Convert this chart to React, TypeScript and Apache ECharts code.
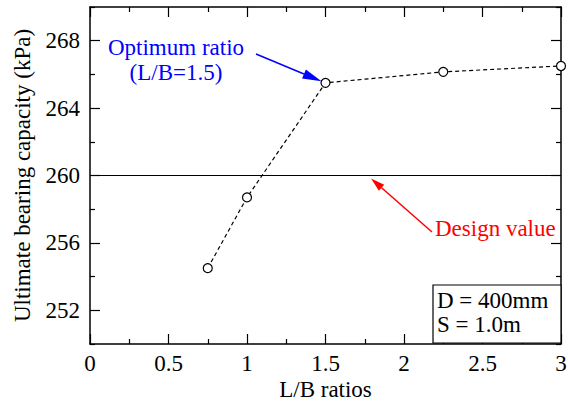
import React, { useEffect, useRef } from "react";
import * as echarts from "echarts";

const lbRatios = [0.75, 1, 1.5, 2.25, 3];
const capacity = [254.5, 258.7, 265.5, 266.15, 266.5];
const designValue = 260;
const yLabelValues = [252, 256, 260, 264, 268];
const yMinorValues = [250, 254, 258, 262, 266, 270];
const optimumText = ["Optimum ratio", "(L/B=1.5)"];
const designText = "Design value";
const infoText = ["D = 400mm", "S = 1.0m"];

const FONT = "'Liberation Serif', 'Times New Roman', serif";
const FS = 23;

function arrow(x1: number, y1: number, x2: number, y2: number, color: string, headLen: number, headHalf: number) {
  const dx = x2 - x1, dy = y2 - y1;
  const len = Math.sqrt(dx * dx + dy * dy);
  const ux = dx / len, uy = dy / len;
  const bx = x2 - ux * headLen, by = y2 - uy * headLen;
  const px = -uy, py = ux;
  return [
    { type: "line", shape: { x1, y1, x2: bx, y2: by }, style: { stroke: color, lineWidth: 1.5 }, silent: true },
    {
      type: "polygon",
      shape: { points: [[x2, y2], [bx + px * headHalf, by + py * headHalf], [bx - px * headHalf, by - py * headHalf]] },
      style: { fill: color },
      silent: true,
    },
  ];
}

export default function App() {
  const ref = useRef<HTMLDivElement>(null);
  useEffect(() => {
    document.body.style.margin = "0";
    const chart = echarts.init(ref.current!, null, { renderer: "svg" });
    const axisLine = { show: true, lineStyle: { color: "#000", width: 1.5 } };
    const xBase = {
      type: "value",
      min: 0,
      max: 3,
      interval: 0.5,
      axisLine,
      axisTick: { show: true, inside: true, length: 10, lineStyle: { color: "#000", width: 1.2 } },
      minorTick: { show: true, splitNumber: 2, length: 5, lineStyle: { color: "#000", width: 1.2 } },
      splitLine: { show: false },
    };
    const yBase = {
      type: "value",
      min: 250,
      max: 270,
      interval: 2,
      splitLine: { show: false },
    };
    chart.setOption({
      animation: false,
      grid: { left: 90, right: 7, top: 7, bottom: 59, containLabel: false, outerBoundsMode: "none" },
      textStyle: { fontFamily: FONT },
      xAxis: [
        {
          ...xBase,
          position: "bottom",
          name: "L/B ratios",
          nameLocation: "middle",
          nameGap: 36,
          nameMoveOverlap: false,
          nameTextStyle: { fontFamily: FONT, fontSize: FS, color: "#000", lineHeight: 18 },
          axisLabel: {
            fontFamily: FONT,
            fontSize: FS,
            lineHeight: 18,
            color: "#000",
            margin: 10,
            formatter: (v: number) => String(v),
          },
        },
        { ...xBase, position: "top", axisLabel: { show: false } },
      ],
      yAxis: [
        {
          ...yBase,
          position: "left",
          name: "Ultimate bearing capacity (kPa)",
          nameLocation: "middle",
          nameGap: 56,
          nameMoveOverlap: false,
          nameTextStyle: { fontFamily: FONT, fontSize: FS, color: "#000" },
          axisLine,
          axisTick: { show: true, inside: true, length: 10, customValues: yLabelValues, lineStyle: { color: "#000", width: 1.2 } },
          axisLabel: { fontFamily: FONT, fontSize: FS, color: "#000", margin: 10, customValues: yLabelValues },
        },
        {
          ...yBase,
          position: "left",
          axisLine: { show: false },
          axisTick: { show: true, inside: true, length: 5, customValues: yMinorValues, lineStyle: { color: "#000", width: 1.2 } },
          axisLabel: { show: false },
        },
        {
          ...yBase,
          position: "right",
          axisLine,
          axisTick: { show: true, inside: true, length: 10, customValues: yLabelValues, lineStyle: { color: "#000", width: 1.2 } },
          axisLabel: { show: false },
        },
        {
          ...yBase,
          position: "right",
          axisLine: { show: false },
          axisTick: { show: true, inside: true, length: 5, customValues: yMinorValues, lineStyle: { color: "#000", width: 1.2 } },
          axisLabel: { show: false },
        },
      ],
      series: [
        {
          type: "line",
          xAxisIndex: 0,
          yAxisIndex: 0,
          data: lbRatios.map((x, i) => [x, capacity[i]]),
          lineStyle: { color: "#000", width: 1.2, type: [4, 3] },
          symbol: "circle",
          symbolSize: 9,
          itemStyle: { color: "#fff", borderColor: "#000", borderWidth: 1.2 },
          z: 5,
          markLine: {
            silent: true,
            symbol: ["none", "none"],
            label: { show: false },
            lineStyle: { color: "#000", width: 1.2, type: "solid" },
            data: [{ yAxis: designValue }],
          },
        },
      ],
    });

    const opt = chart.convertToPixel({ xAxisIndex: 0, yAxisIndex: 0 }, [lbRatios[2], capacity[2]]) as number[];
    const dv = chart.convertToPixel({ xAxisIndex: 0, yAxisIndex: 0 }, [1.79, designValue]) as number[];
    const corner = chart.convertToPixel({ xAxisIndex: 0, yAxisIndex: 0 }, [3, 250]) as number[];

    const blueArrow = arrow(256, 54, opt[0] - 4, opt[1] - 1.5, "#0000ff", 19, 5);
    const redArrow = arrow(432, 232, dv[0], dv[1] + 3, "#ff0000", 14, 4);
    const font = `${FS}px ${FONT}`;

    chart.setOption({
      graphic: [
        ...blueArrow,
        ...redArrow,
        {
          type: "text",
          x: 176,
          y: 47,
          style: { text: optimumText[0], fill: "#0000ff", font, align: "center", verticalAlign: "middle" },
        },
        {
          type: "text",
          x: 176,
          y: 72,
          style: { text: optimumText[1], fill: "#0000ff", font, align: "center", verticalAlign: "middle" },
        },
        {
          type: "text",
          x: 435,
          y: 228,
          style: { text: designText, fill: "#ff0000", font, align: "left", verticalAlign: "middle" },
        },
        {
          type: "rect",
          shape: { x: 433, y: 285, width: corner[0] - 433, height: corner[1] - 285 - 1 },
          style: { fill: "#fff", stroke: "#000", lineWidth: 1.2 },
          z: 10,
        },
        {
          type: "text",
          x: 437,
          y: 300,
          z: 11,
          style: { text: infoText[0], fill: "#000", font, align: "left", verticalAlign: "middle" },
        },
        {
          type: "text",
          x: 437,
          y: 324,
          z: 11,
          style: { text: infoText[1], fill: "#000", font, align: "left", verticalAlign: "middle" },
        },
      ],
    });
    return () => chart.dispose();
  }, []);
  return <div ref={ref} style={{ width: 568, height: 403 }} />;
}
